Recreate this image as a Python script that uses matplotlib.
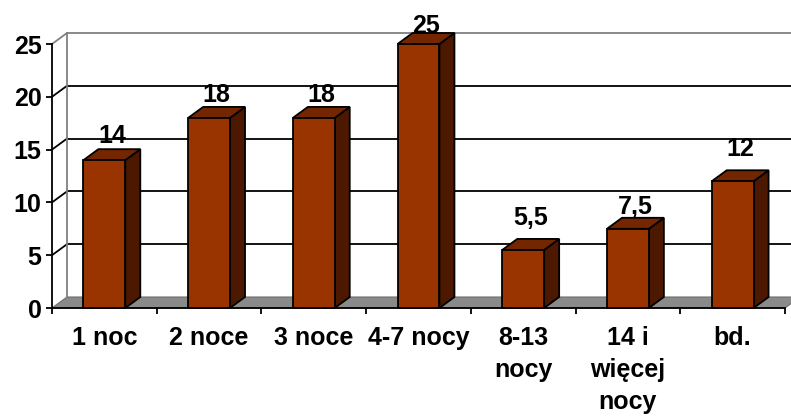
import matplotlib
matplotlib.use("Agg")
import matplotlib.pyplot as plt
from matplotlib.patches import Polygon
from matplotlib import transforms

# Data
categories = ["1 noc", "2 noce", "3 noce", "4-7 nocy", "8-13\nnocy", "14 i\nwięcej\nnocy", "bd."]
values = [14, 18, 18, 25, 5.5, 7.5, 12]
y_ticks = [0, 5, 10, 15, 20, 25]

# Small per-label lifts (pixels) above the bar's back top edge
label_lift_px = [6, 5, 5, 0, 14, 4, 14]

plt.rcParams["font.family"] = ["Liberation Sans", "DejaVu Sans"]
plt.rcParams["font.weight"] = "bold"

W, H, DPI = 791, 416, 100
fig = plt.figure(figsize=(W / DPI, H / DPI), dpi=DPI)
fig.patch.set_facecolor("white")

left_px, right_px, bottom_px, top_px = 52, 785, 308, 44
ax = fig.add_axes([left_px / W, (H - bottom_px) / H,
                   (right_px - left_px) / W, (bottom_px - top_px) / H])
n = len(categories)
ymax = y_ticks[-1]
ax.set_xlim(0, n)
ax.set_ylim(0, ymax)
ax.set_facecolor("none")

# depth of the 3-D box, converted from pixels into data units
px_x = (right_px - left_px) / n
px_y = (bottom_px - top_px) / ymax
depth_dx = 15 / px_x
depth_dy = 11 / px_y

gray = "#808080"
lw = 1.3
fs = 18

# floor
floor = Polygon([(0, 0), (n, 0), (n + depth_dx, depth_dy), (depth_dx, depth_dy)],
                closed=True, facecolor="#8a8a8a", edgecolor="#6e6e6e", lw=0.8,
                clip_on=False, zorder=1)
ax.add_patch(floor)

# back wall gridlines and left side-wall diagonals
for lvl in y_ticks:
    col = gray if lvl in (0, ymax) else "black"
    if lvl > 0:
        ax.plot([depth_dx, n + 2 * depth_dx], [lvl + depth_dy, lvl + depth_dy],
                color=col, lw=lw, clip_on=False, zorder=1.2, solid_capstyle="butt")
        ax.plot([0, depth_dx], [lvl, lvl + depth_dy], color=col, lw=lw,
                clip_on=False, zorder=1.2)
ax.plot([depth_dx, depth_dx], [depth_dy, ymax + depth_dy], color=gray, lw=lw,
        clip_on=False, zorder=1.2)

# bars
front_c, top_c, side_c = "#993300", "#732600", "#4c1900"
half = 0.2
for i, v in enumerate(values):
    c = i + 0.5
    x0, x1 = c - half, c + half
    side = Polygon([(x1, 0), (x1 + depth_dx, depth_dy), (x1 + depth_dx, v + depth_dy), (x1, v)],
                   closed=True, facecolor=side_c, edgecolor="black", lw=lw,
                   joinstyle="miter", clip_on=False, zorder=3)
    top = Polygon([(x0, v), (x1, v), (x1 + depth_dx, v + depth_dy), (x0 + depth_dx, v + depth_dy)],
                  closed=True, facecolor=top_c, edgecolor="black", lw=lw,
                  joinstyle="miter", clip_on=False, zorder=3)
    front = Polygon([(x0, 0), (x1, 0), (x1, v), (x0, v)],
                    closed=True, facecolor=front_c, edgecolor="black", lw=lw,
                    joinstyle="miter", clip_on=False, zorder=3.1)
    for p in (side, top, front):
        ax.add_patch(p)

    label = f"{v:g}".replace(".", ",")
    tr = transforms.offset_copy(ax.transData, fig=fig, x=0,
                                y=label_lift_px[i], units="dots")
    ax.text(c + depth_dx / 2, min(v, ymax) + depth_dy, label, transform=tr,
            ha="center", va="baseline", fontsize=fs, fontweight="bold",
            color="black", zorder=4, clip_on=False)

# axes: front spines and ticks
for s in ("top", "right"):
    ax.spines[s].set_visible(False)
for s in ("left", "bottom"):
    ax.spines[s].set_color("black")
    ax.spines[s].set_linewidth(lw)
    ax.spines[s].set_zorder(2.5)

ax.set_yticks(y_ticks)
ax.set_yticklabels([str(t) for t in y_ticks], fontsize=fs, fontweight="bold")
ax.set_xticks(range(n + 1))
ax.set_xticklabels([])
ax.tick_params(axis="y", direction="out", length=4.5, width=lw, pad=3, colors="black")
ax.tick_params(axis="x", direction="out", length=4, width=lw, colors="black")

# category labels
lab_tr = transforms.offset_copy(ax.get_xaxis_transform(), fig=fig, x=0, y=-18, units="dots")
for i, name in enumerate(categories):
    ax.text(i + 0.5, 0, name, transform=lab_tr, ha="center", va="top",
            fontsize=fs, fontweight="bold", linespacing=1.42, color="black")

fig.savefig("out.png", dpi=DPI, facecolor="white")
